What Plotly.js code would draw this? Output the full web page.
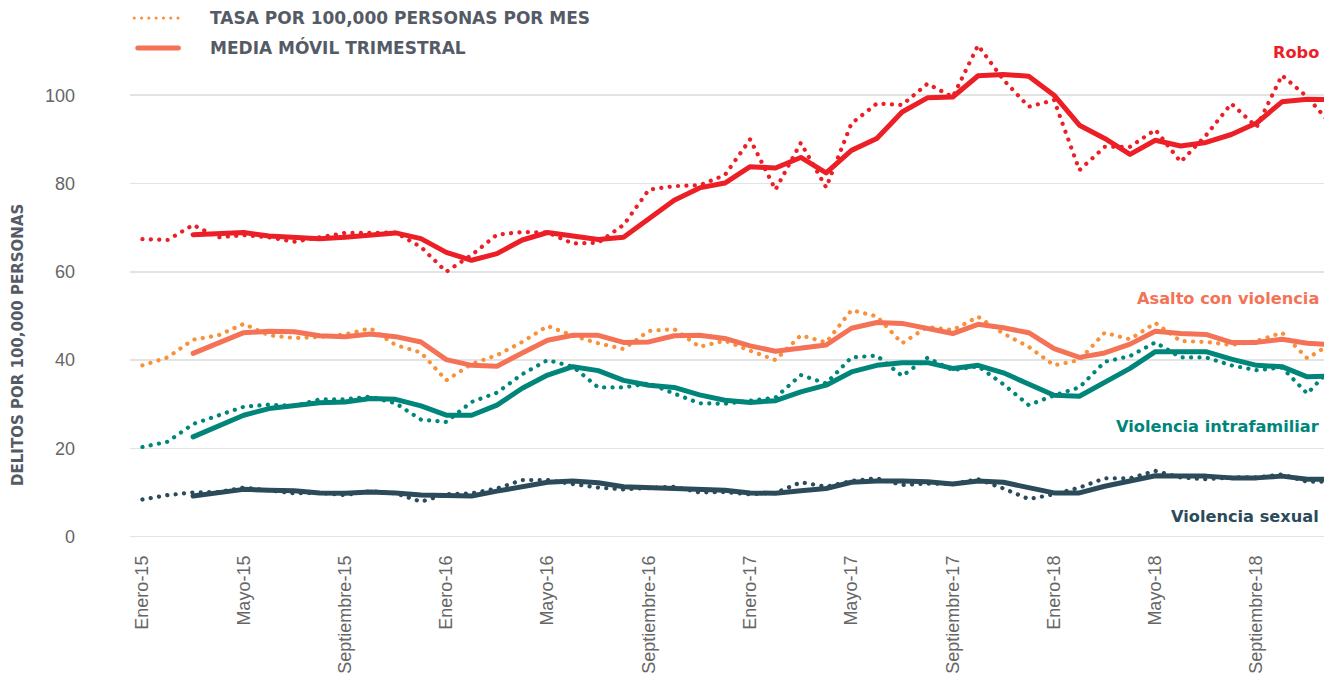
<!DOCTYPE html>
<html>
<head>
<meta charset="utf-8">
<script src="https://cdn.plot.ly/plotly-3.0.1.min.js"></script>
<style>
  html, body { margin: 0; padding: 0; background: #fff; }
  #chart { width: 1324px; height: 686px; }
  .scatterlayer path.js-line { stroke-linecap: round; stroke-linejoin: round; }
  .shapelayer path { stroke-linecap: round; }
</style>
</head>
<body>
<div id="chart"></div>
<script>
// ---- Categories (months Jan-2015 .. Dec-2018) ----
const monthNames = ['Enero','Febrero','Marzo','Abril','Mayo','Junio','Julio','Agosto','Septiembre','Octubre','Noviembre','Diciembre'];
const years = ['15','16','17','18'];
const months = [];
years.forEach(y => monthNames.forEach(m => months.push(m + '-' + y)));
const tickLabels = ['Enero-15','Mayo-15','Septiembre-15','Enero-16','Mayo-16','Septiembre-16',
                    'Enero-17','Mayo-17','Septiembre-17','Enero-18','Mayo-18','Septiembre-18'];

// ---- Series: monthly rate per 100,000 ----
const roboTasa = [67.4, 67.2, 70.6, 67.8, 68.3, 67.8, 66.8, 67.7, 68.8, 68.8, 68.9, 65.6,
                  60.0, 63.8, 68.4, 69.0, 68.9, 66.4, 66.6, 70.6, 78.6, 79.4, 79.6, 81.9,
                  90.0, 78.6, 89.2, 79.1, 93.6, 98.1, 97.8, 102.6, 99.6, 111.3, 103.5, 97.4,
                  98.9, 83.0, 88.3, 88.3, 92.2, 84.9, 90.9, 98.1, 92.8, 104.5, 99.6, 93.0];
const roboMedia = [null, null, 68.4, 68.7, 68.9, 68.1, 67.8, 67.5, 67.8, 68.4, 68.8, 67.5,
                   64.4, 62.6, 64.1, 67.2, 68.9, 68.1, 67.3, 67.8, 72.1, 76.2, 79.0, 80.1,
                   83.8, 83.5, 85.9, 82.4, 87.5, 90.2, 96.2, 99.4, 99.6, 104.4, 104.7, 104.3,
                   100.0, 93.2, 90.2, 86.6, 89.8, 88.5, 89.3, 91.1, 93.7, 98.5, 99.1, 99.0];

const asaltoTasa = [38.8, 40.6, 44.6, 45.6, 48.2, 45.6, 45.0, 45.2, 45.8, 47.2, 43.4, 41.7,
                    35.4, 39.1, 41.1, 44.1, 47.7, 45.5, 43.8, 42.5, 46.6, 47.0, 43.0, 44.4,
                    42.1, 40.0, 45.6, 44.0, 51.3, 49.9, 43.8, 47.5, 46.8, 49.8, 46.0, 43.0,
                    38.8, 40.0, 46.2, 44.7, 48.4, 44.3, 44.1, 43.4, 44.3, 46.2, 40.4, 43.9];
const asaltoMedia = [null, null, 41.5, 43.8, 46.2, 46.5, 46.4, 45.5, 45.3, 45.9, 45.3, 44.1,
                     40.1, 38.8, 38.6, 41.6, 44.5, 45.6, 45.6, 44.0, 44.1, 45.5, 45.6, 44.9,
                     43.2, 42.0, 42.6, 43.4, 47.2, 48.5, 48.3, 47.1, 46.0, 48.1, 47.3, 46.2,
                     42.6, 40.6, 41.6, 43.6, 46.5, 46.0, 45.8, 44.0, 44.0, 44.7, 43.8, 43.5];

const intraTasa = [20.3, 21.5, 25.5, 27.5, 29.4, 29.9, 29.6, 31.1, 31.1, 31.7, 30.2, 26.5,
                   26.0, 30.5, 32.6, 36.8, 40.0, 38.5, 33.8, 33.8, 34.7, 32.4, 30.2, 30.1,
                   30.9, 31.5, 36.6, 34.7, 40.6, 41.0, 36.4, 40.5, 37.7, 38.6, 34.5, 29.8,
                   32.0, 33.8, 39.6, 40.9, 44.0, 40.6, 40.6, 38.8, 37.7, 38.3, 32.4, 38.5];
const intraMedia = [null, null, 22.6, 25.0, 27.5, 29.0, 29.6, 30.3, 30.5, 31.3, 31.1, 29.6,
                    27.5, 27.5, 29.8, 33.6, 36.6, 38.5, 37.6, 35.4, 34.3, 33.8, 32.1, 30.9,
                    30.4, 30.8, 32.8, 34.3, 37.3, 38.8, 39.4, 39.4, 38.1, 38.8, 37.1, 34.5,
                    32.0, 31.8, 35.1, 38.1, 41.9, 41.9, 41.9, 40.2, 38.8, 38.5, 36.2, 36.4];

const sexualTasa = [8.4, 9.4, 10.0, 10.1, 11.1, 10.5, 9.8, 9.9, 9.4, 10.3, 9.8, 7.9,
                    9.6, 9.8, 10.9, 12.8, 12.8, 11.9, 11.1, 10.7, 11.1, 11.3, 10.0, 10.1,
                    9.6, 9.9, 12.3, 11.3, 12.6, 13.2, 11.7, 12.0, 11.9, 13.0, 10.9, 8.5,
                    9.6, 11.1, 13.2, 13.2, 14.9, 13.4, 13.0, 13.4, 13.4, 14.1, 12.4, 12.5];
const sexualMedia = [null, null, 9.2, 9.9, 10.7, 10.5, 10.4, 9.9, 9.8, 10.1, 9.9, 9.4,
                     9.2, 9.2, 10.3, 11.4, 12.3, 12.6, 12.2, 11.3, 11.1, 11.1, 10.9, 10.5,
                     9.9, 9.8, 10.4, 10.9, 12.3, 12.6, 12.6, 12.4, 11.9, 12.6, 12.3, 11.1,
                     9.9, 9.9, 11.4, 12.6, 13.8, 13.7, 13.7, 13.3, 13.3, 13.7, 13.0, 13.0];

const yTicks = [0, 20, 40, 60, 80, 100];

// ---- styles ----
const C = {
  robo: '#ec1f27',
  asaltoSolid: '#f47356',
  asaltoDot: '#f7913a',
  intra: '#00857b',
  sexual: '#2b4b5b',
  text: '#555b66',
  tick: '#666666',
  grid: '#e3e3e3'
};
const DOT = '0.1px,8.3px';

function dotted(y, color) {
  return {x: months, y: y, type: 'scatter', mode: 'lines', showlegend: false, hoverinfo: 'skip',
          line: {color: color, width: 4.2, dash: DOT}};
}
function solid(y, color) {
  return {x: months, y: y, type: 'scatter', mode: 'lines', showlegend: false, hoverinfo: 'skip',
          connectgaps: false, line: {color: color, width: 5}};
}

const data = [
  dotted(sexualTasa, C.sexual), solid(sexualMedia, C.sexual),
  dotted(intraTasa, C.intra), solid(intraMedia, C.intra),
  dotted(asaltoTasa, C.asaltoDot), solid(asaltoMedia, C.asaltoSolid),
  dotted(roboTasa, C.robo), solid(roboMedia, C.robo)
];

const boldFont = 'DejaVu Sans, sans-serif';
const tickFontFamily = 'Liberation Sans, Arial, sans-serif';

function seriesLabel(text, y, color) {
  return {text: '<b>' + text + '</b>', xref: 'paper', yref: 'y', x: 0.9975, y: y,
          xanchor: 'right', yanchor: 'middle', showarrow: false,
          font: {family: boldFont, size: 16.2, color: color}};
}

const layout = {
  width: 1324, height: 686,
  margin: {l: 130, r: 0, t: 29, b: 145},
  paper_bgcolor: '#fff', plot_bgcolor: '#fff',
  showlegend: false,
  xaxis: {
    type: 'category',
    range: [-0.49, 46.66],
    tickvals: tickLabels, ticktext: tickLabels,
    tickangle: -90,
    showgrid: false, zeroline: false, showline: false, ticks: '',
    ticklabelstandoff: 10,
    tickfont: {family: tickFontFamily, size: 18, color: C.tick}
  },
  yaxis: {
    range: [-1, 115],
    tickvals: yTicks,
    showgrid: true, gridcolor: C.grid, gridwidth: 1.5,
    zeroline: false, showline: false, ticks: '',
    ticklabelstandoff: 54,
    tickfont: {family: tickFontFamily, size: 18, color: C.tick}
  },
  shapes: [
    {type: 'line', xref: 'paper', yref: 'paper', x0: 0.0035, x1: 0.0405, y0: 1.0215, y1: 1.0215,
     line: {color: C.asaltoDot, width: 3, dash: '0.1px,7.2px'}},
    {type: 'line', xref: 'paper', yref: 'paper', x0: 0.0065, x1: 0.0405, y0: 0.963, y1: 0.963,
     line: {color: C.asaltoSolid, width: 5}}
  ],
  annotations: [
    {text: '<b>TASA POR 100,000 PERSONAS POR MES</b>', xref: 'paper', yref: 'paper',
     x: 0.0655, y: 1.0215, xanchor: 'left', yanchor: 'middle', showarrow: false,
     font: {family: boldFont, size: 17, color: C.text}},
    {text: '<b>MEDIA MÓVIL TRIMESTRAL</b>', xref: 'paper', yref: 'paper',
     x: 0.0655, y: 0.963, xanchor: 'left', yanchor: 'middle', showarrow: false,
     font: {family: boldFont, size: 17, color: C.text}},
    {text: '<b>DELITOS POR 100,000 PERSONAS</b>', xref: 'paper', yref: 'paper',
     x: -0.0938, y: 0.383, xanchor: 'center', yanchor: 'middle', textangle: -90, showarrow: false,
     font: {family: boldFont, size: 15, color: C.text}},
    seriesLabel('Robo', 109.7, C.robo),
    seriesLabel('Asalto con violencia', 54.0, C.asaltoSolid),
    seriesLabel('Violencia intrafamiliar', 25.0, C.intra),
    seriesLabel('Violencia sexual', 4.6, C.sexual)
  ]
};

Plotly.newPlot('chart', data, layout, {displayModeBar: false, staticPlot: true});
</script>
</body>
</html>
